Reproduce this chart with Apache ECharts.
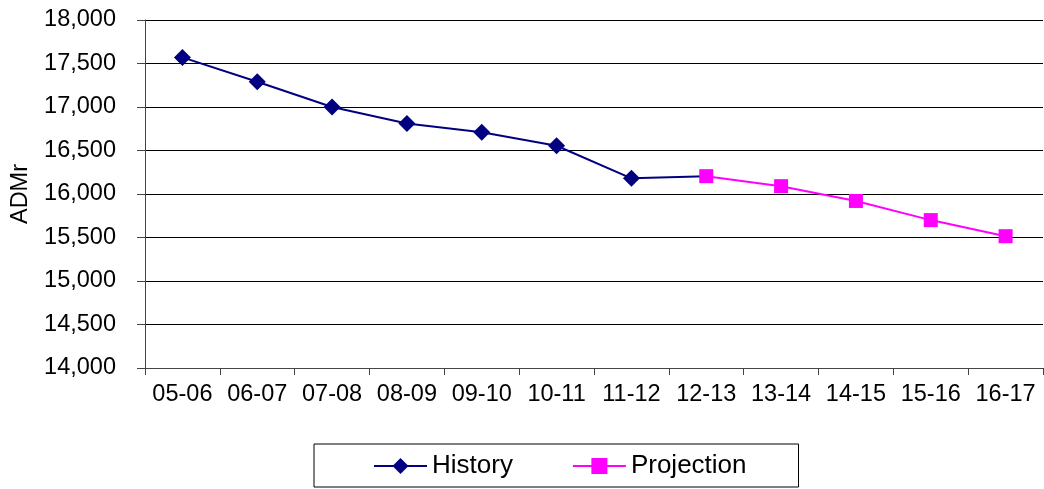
<!DOCTYPE html>
<html>
<head>
<meta charset="utf-8">
<script src="https://cdn.jsdelivr.net/npm/echarts@6/dist/echarts.min.js"></script>
<style>
  html, body { margin: 0; padding: 0; background: #fff; }
  #main { width: 1044px; height: 489px; }
</style>
</head>
<body>
<div id="main"></div>
<script>
var seasons = ['05-06', '06-07', '07-08', '08-09', '09-10', '10-11', '11-12', '12-13', '13-14', '14-15', '15-16', '16-17'];
var historyValues = [17570, 17290, 17000, 16810, 16710, 16555, 16180, 16205, null, null, null, null];
var projectionValues = [null, null, null, null, null, null, null, 16205, 16090, 15920, 15700, 15515];
var yTicks = [14000, 14500, 15000, 15500, 16000, 16500, 17000, 17500, 18000];

// where the projection starts, the history marker sits under the square: hide it
var historyData = historyValues.map(function (v, i) {
  if (v != null && projectionValues[i] != null) return { value: v, symbol: 'none' };
  return v;
});

var chart = echarts.init(document.getElementById('main'), null, { renderer: 'canvas' });

var option = {
  animation: false,
  textStyle: { fontFamily: 'Liberation Sans, Arial, sans-serif' },
  grid: { left: 145, right: 1, top: 20, bottom: 121 },
  legend: {
    bottom: 2,
    left: 314,
    data: ['History', 'Projection'],
    padding: [9, 52, 8, 59],
    itemGap: 59,
    itemWidth: 53,
    itemHeight: 20,
    borderColor: '#000',
    borderWidth: 1,
    borderRadius: 0,
    textStyle: { color: '#000', fontSize: 26 }
  },
  xAxis: {
    type: 'category',
    data: seasons,
    boundaryGap: true,
    axisLine: { lineStyle: { color: '#444', width: 1 } },
    axisTick: { show: true, length: 7, lineStyle: { color: '#444' } },
    axisLabel: { color: '#000', fontSize: 23.5, margin: 15, interval: 0 }
  },
  yAxis: {
    type: 'value',
    min: yTicks[0],
    max: yTicks[yTicks.length - 1],
    interval: 500,
    name: 'ADMr',
    nameLocation: 'middle',
    nameGap: 112,
    nameTextStyle: { color: '#000', fontSize: 23.5 },
    axisLine: { show: true, lineStyle: { color: '#444', width: 1 } },
    axisTick: { show: true, length: 8, lineStyle: { color: '#444' } },
    axisLabel: {
      color: '#000', fontSize: 23.5, margin: 29,
      formatter: function (v) { return v.toLocaleString('en-US'); }
    },
    splitLine: { show: true, lineStyle: { color: '#000', width: 1 } }
  },
  series: [
    {
      name: 'History',
      type: 'line',
      data: historyData,
      symbol: 'diamond',
      symbolSize: 17,
      showAllSymbol: true,
      itemStyle: { color: '#000080' },
      lineStyle: { color: '#000080', width: 2 },
      z: 2
    },
    {
      name: 'Projection',
      type: 'line',
      data: projectionValues,
      symbol: 'rect',
      symbolSize: 14,
      showAllSymbol: true,
      itemStyle: { color: '#FF00FF' },
      lineStyle: { color: '#FF00FF', width: 2 },
      z: 3
    }
  ]
};

chart.setOption(option);
window.addEventListener('resize', chart.resize);
</script>
</body>
</html>
